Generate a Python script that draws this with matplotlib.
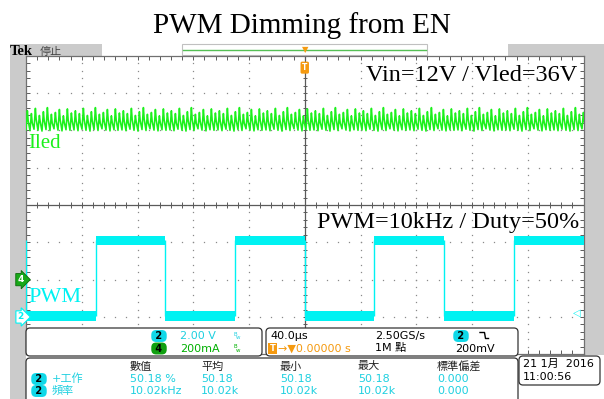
import numpy as np
import matplotlib
matplotlib.use("Agg")
import matplotlib.pyplot as plt
from matplotlib.patches import FancyBboxPatch, Rectangle

# ---------------- data ----------------
title = "PWM Dimming from EN"
note_top = "Vin=12V / Vled=36V"
note_bottom = "PWM=10kHz / Duty=50%"
ch4_label = "Iled"
ch2_label = "PWM"

time_per_div_us = 40.0
n_hdiv, n_vdiv = 10, 8

# Ch2 : PWM (EN pin) -- segment boundaries (us) and level of each segment (V)
pwm_edge_times_us = [-210, -200, -150, -100, -50, 0, 50, 100, 150, 200]
pwm_levels_v = [4.1, 0.05, 4.1, 0.05, 4.1, 0.05, 4.1, 0.05, 4.1]
ch2_volts_per_div = 2.0
ch2_offset_div = -3.0
trigger_level_v = 0.2

# Ch4 : LED current ripple (one repeating group of cycles)
ch4_ma_per_div = 200.0
ch4_offset_div = -2.0
iled_ripple_period_us = 2.87
iled_peaks_ma = [905, 890, 918, 880, 900, 922, 886, 896, 912, 878, 915, 893]
iled_mids_ma = [850, 842, 858, 846, 852, 860, 840, 848, 856, 844, 854, 850]
iled_valleys_ma = [802, 798, 806, 800, 796, 804, 799, 808, 801, 797, 803, 800]

# readouts
ch_scales = [("2", "2.00 V"), ("4", "200mA")]
timebase = ["40.0\u03bcs", "2.50GS/s", "200mV"]
meas_headers = ["數值", "平均", "最小", "最大", "標準偏差"]
meas_rows = [("+工作", ["50.18 %", "50.18", "50.18", "50.18", "0.000"]),
             ("頻率", ["10.02kHz", "10.02k", "10.02k", "10.02k", "0.000"])]
date_lines = ["21 1月  2016", "11:00:56"]

# ---------------- style ----------------
CYAN = "#00f2f2"
CYAN_TXT = "#1fd0e0"
GREEN = "#1cf01c"
GREEN_TXT = "#00b000"
ORANGE = "#f59a10"
GRAY = "#cbcbcb"
GRID = "#8a8a8a"
AXC = "#5a5a5a"

plt.rcParams['font.family'] = ['DejaVu Sans', 'Noto Sans CJK TC']
SERIF = 'Liberation Serif'

W, H = 604, 399
fig = plt.figure(figsize=(W / 100, H / 100), dpi=100)
fig.patch.set_facecolor('white')

def fx(px):
    return px / W

def fy(py):
    return 1 - py / H

# background layer
bgb = fig.add_axes([0, 0, 1, 1], zorder=0)
bgb.set_xlim(0, W); bgb.set_ylim(H, 0); bgb.axis('off')
bgb.add_patch(Rectangle((10, 44), 16, 355, fc=GRAY, ec='none'))
bgb.add_patch(Rectangle((583.5, 44), 20.5, 311, fc=GRAY, ec='none'))
bgb.add_patch(Rectangle((10, 44), 92, 11.5, fc=GRAY, ec='none'))
bgb.add_patch(Rectangle((508, 44), 96, 11.5, fc=GRAY, ec='none'))
bgb.add_patch(Rectangle((182, 44), 245, 11, fc='white', ec='#c0c0c0', lw=0.8))
bgb.plot([183, 426], [49.5, 49.5], color='#55c055', lw=1.0)

# graticule
gl, gr, gt, gb = 26.0, 583.5, 55.7, 354.3
ax = fig.add_axes([fx(gl), fy(gb), (gr - gl) / W, (gb - gt) / H], zorder=1)
half_t = n_hdiv / 2 * time_per_div_us
ax.set_xlim(-half_t, half_t)
ax.set_ylim(-n_vdiv / 2, n_vdiv / 2)
ax.set_facecolor('white')
for s in ax.spines.values():
    s.set_color('#707070'); s.set_linewidth(0.9)
ax.set_xticks(np.arange(-half_t, half_t + 0.1, time_per_div_us / 5))
ax.set_yticks(np.arange(-4, 4.01, 0.2))
ax.tick_params(direction='in', length=3, width=0.7, color=AXC,
               top=True, right=True, labelbottom=False, labelleft=False)

# dotted division lines
ydots = np.arange(-4, 4.01, 0.2)
xdots = np.arange(-half_t, half_t + 0.1, time_per_div_us / 5)
for k in range(-4, 5):
    if k == 0:
        continue
    ax.plot(np.full_like(ydots, k * time_per_div_us), ydots, ls='none', marker='s',
            ms=0.9, mew=0, color=GRID)
for k in range(-3, 4):
    if k == 0:
        continue
    ax.plot(xdots, np.full_like(xdots, k), ls='none', marker='s', ms=0.9, mew=0, color=GRID)
ax.axhline(0, color=AXC, lw=0.9)
ax.axvline(0, color=AXC, lw=0.9)
ax.vlines(xdots, -0.07, 0.07, color=AXC, lw=0.7)
ax.hlines(ydots, -1.6, 1.6, color=AXC, lw=0.7)

# Ch4 trace (LED current): valley -> peak -> mid -> valley ...
n_cyc = int(np.ceil(2 * half_t / iled_ripple_period_us)) + 1
pk = np.resize(iled_peaks_ma, n_cyc)
md = np.resize(iled_mids_ma, n_cyc)
vl = np.resize(iled_valleys_ma, n_cyc)
t_v = -half_t + np.arange(n_cyc) * iled_ripple_period_us
t_all = np.empty(3 * n_cyc); i_all = np.empty(3 * n_cyc)
t_all[0::3] = t_v
t_all[1::3] = t_v + 0.35 * iled_ripple_period_us
t_all[2::3] = t_v + 0.55 * iled_ripple_period_us
i_all[0::3] = vl; i_all[1::3] = pk; i_all[2::3] = md
ax.plot(t_all, ch4_offset_div + i_all / ch4_ma_per_div, color=GREEN, lw=1.15, zorder=4)

# Ch2 trace (PWM)
band = 0.13
for j, lev in enumerate(pwm_levels_v):
    y = ch2_offset_div + lev / ch2_volts_per_div
    ax.fill_between([pwm_edge_times_us[j], pwm_edge_times_us[j + 1]], y - band, y + band,
                    color=CYAN, lw=0, zorder=4)
for j in range(1, len(pwm_levels_v)):
    y0 = ch2_offset_div + pwm_levels_v[j - 1] / ch2_volts_per_div
    y1 = ch2_offset_div + pwm_levels_v[j] / ch2_volts_per_div
    ax.vlines(pwm_edge_times_us[j], min(y0, y1), max(y0, y1), color=CYAN, lw=1.0, zorder=4)

# ground markers / trigger markers
ax.annotate("4", xy=(-0.004, ch4_offset_div), xycoords=('axes fraction', 'data'),
            ha='right', va='center', fontsize=6.5, fontweight='bold', color='white',
            bbox=dict(boxstyle='rarrow,pad=0.18', fc='#18a818', ec='#0a6a0a', lw=0.6),
            annotation_clip=False, zorder=6)
ax.annotate("2", xy=(-0.004, ch2_offset_div), xycoords=('axes fraction', 'data'),
            ha='right', va='center', fontsize=6.5, fontweight='bold', color=CYAN,
            bbox=dict(boxstyle='rarrow,pad=0.18', fc='white', ec=CYAN, lw=0.8),
            annotation_clip=False, zorder=6)
ax.annotate("\u25c1", xy=(0.995, ch2_offset_div + trigger_level_v / ch2_volts_per_div),
            xycoords=('axes fraction', 'data'), ha='right', va='center',
            fontsize=7, color=CYAN, annotation_clip=False, zorder=6)
ax.annotate("T", xy=(0, 0.96), xycoords=('data', 'axes fraction'), ha='center', va='center',
            fontsize=5.5, fontweight='bold', color='white',
            bbox=dict(boxstyle='round,pad=0.2', fc=ORANGE, ec='none'), annotation_clip=False)

# ---------------- overlay (texts, readouts) ----------------
ov = fig.add_axes([0, 0, 1, 1], zorder=3)
ov.set_xlim(0, W); ov.set_ylim(H, 0); ov.axis('off')
ov.patch.set_alpha(0)

fig.text(0.5, fy(32.7), title, ha='center', va='baseline', fontsize=21, family=SERIF)
ov.text(10, 55, "Tek", ha='left', va='baseline', fontsize=10.5, fontweight='bold', family=SERIF)
ov.text(40, 54.5, "停止", ha='left', va='baseline', fontsize=8, color='#444444',
        family=['Noto Sans CJK TC'])
ov.text(305, 49.5, "\u25bc", ha='center', va='center', fontsize=6, color=ORANGE)

ov.text(577, 81, note_top, ha='right', va='baseline', fontsize=17.5, family=SERIF)
ov.text(579.5, 227.8, note_bottom, ha='right', va='baseline', fontsize=17.5, family=SERIF)
ov.text(28, 148.3, ch4_label, ha='left', va='baseline', fontsize=15, family=SERIF, color=GREEN)
ov.text(28, 301.7, ch2_label, ha='left', va='baseline', fontsize=16, family=SERIF, color=CYAN)

def panel(x0, y0, x1, y1):
    ov.add_patch(FancyBboxPatch((x0, y0), x1 - x0, y1 - y0,
                                boxstyle='round,pad=0,rounding_size=4',
                                fc='white', ec='#333333', lw=0.9, zorder=2))

FS = 8
panel(26, 328, 262, 356)
panel(266, 328, 518, 356)
panel(26, 358, 518, 410)
panel(519, 356, 600, 385)

# channel scale panel
for (ch, sc), yy, col, bfc in zip(ch_scales, [336, 348.5], [CYAN_TXT, GREEN_TXT], ['#10d8e8', '#10a010']):
    ov.text(159, yy, " " + ch + " ", ha='center', va='center', fontsize=7, fontweight='bold',
            color='black', zorder=4,
            bbox=dict(boxstyle='round,pad=0.1,rounding_size=0.5', fc=bfc, ec='none'))
    ov.text(180, yy, sc, ha='left', va='center', fontsize=FS, color=col, zorder=4)
    ov.text(233, yy - 1.5, "B", ha='left', va='center', fontsize=4, color=col, zorder=4)
    ov.text(236, yy + 1.5, "w", ha='left', va='center', fontsize=4, color=col, zorder=4)

# timebase panel
ov.text(270, 336, timebase[0], ha='left', va='center', fontsize=FS, color='black', zorder=4)
ov.text(375, 336, timebase[1], ha='left', va='center', fontsize=FS, color='black', zorder=4)
ov.text(461, 336, " 2 ", ha='center', va='center', fontsize=7, fontweight='bold', color='black',
        zorder=4, bbox=dict(boxstyle='round,pad=0.1,rounding_size=0.5', fc='#10d8e8', ec='none'))
ov.plot([480, 484.5, 485.5, 488.5], [332.5, 332.5, 338.5, 338.5], color='black', lw=1.0, zorder=4)
ov.text(272.5, 348.5, "T", ha='center', va='center', fontsize=6, fontweight='bold', color='white',
        zorder=4, bbox=dict(boxstyle='square,pad=0.15', fc=ORANGE, ec='none'))
ov.text(277.5, 348.5, "\u2192\u25bc0.00000 s", ha='left', va='center', fontsize=FS, color=ORANGE,
        zorder=4)
ov.text(375, 348.5, "1M 點", ha='left', va='center', fontsize=FS, color='black', zorder=4)
ov.text(455, 348.5, timebase[2], ha='left', va='center', fontsize=FS, color='black', zorder=4)

# measurement panel
col_x = [130, 201, 280, 358, 437]
for cx, hdr in zip(col_x, meas_headers):
    ov.text(cx, 366.5, hdr, ha='left', va='center', fontsize=FS, color='#222222', zorder=4)
for (name, vals), yy in zip(meas_rows, [379, 391]):
    ov.text(39, yy, " 2 ", ha='center', va='center', fontsize=7, fontweight='bold', color='black',
            zorder=4, bbox=dict(boxstyle='round,pad=0.1,rounding_size=0.5', fc='#10d8e8', ec='none'))
    ov.text(52, yy, name, ha='left', va='center', fontsize=FS, color=CYAN_TXT, zorder=4)
    for cx, v in zip(col_x, vals):
        ov.text(cx, yy, v, ha='left', va='center', fontsize=FS, color=CYAN_TXT, zorder=4)

# date panel
ov.text(523, 363.5, date_lines[0], ha='left', va='center', fontsize=FS, color='black', zorder=4)
ov.text(523, 377, date_lines[1], ha='left', va='center', fontsize=FS, color='black', zorder=4)

fig.savefig("out.png", dpi=100, facecolor='white')
